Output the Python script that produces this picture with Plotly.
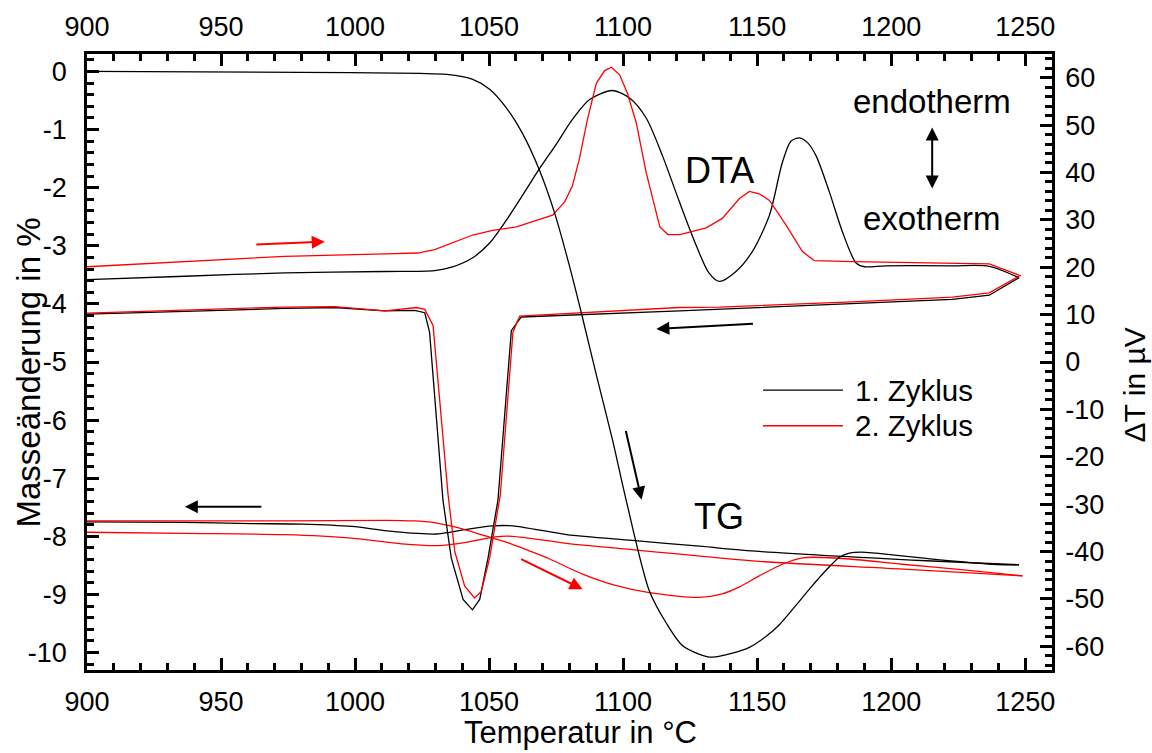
import plotly.graph_objects as go

# ---------------- data ----------------
# TG (mass change in %), 1. cycle heating
tg1_heat_T = [900, 979.4, 1024.1, 1034.2, 1043.9, 1050.2, 1056.5, 1062.5, 1068.8, 1074.4, 1080.0,
              1084.5, 1090.1, 1096.0, 1101.3, 1109.8, 1116.2, 1122.1, 1128.5, 1133.3, 1140.8,
              1147.1, 1153.4, 1158.3, 1164.6, 1170.2, 1175.8, 1180.7, 1184.4, 1188.8, 1194.4,
              1213.1, 1237.7, 1247.7]
tg1_heat_m = [0, -0.017, -0.034, -0.051, -0.136, -0.306, -0.63, -1.07, -1.70, -2.43, -3.35,
              -4.17, -5.24, -6.33, -7.41, -8.94, -9.50, -9.88, -10.03, -10.08, -10.01,
              -9.91, -9.72, -9.52, -9.18, -8.87, -8.58, -8.36, -8.29, -8.27, -8.29,
              -8.38, -8.48, -8.49]
# TG 1. cycle cooling
tg1_cool_T = [1247.7, 1213.1, 1150.8, 1128.5, 1103.5, 1078.9, 1058.8, 1051.3, 1041.6, 1035.3,
              1030.4, 1023.4, 1011.1, 998.8, 980.1, 961.5, 936.5, 900]
tg1_cool_m = [-8.49, -8.42, -8.26, -8.17, -8.07, -7.97, -7.82, -7.82, -7.88, -7.93,
              -7.96, -7.95, -7.90, -7.83, -7.79, -7.78, -7.76, -7.75]
# TG 2. cycle heating
tg2_heat_T = [900, 937, 974, 1011, 1022, 1029, 1039, 1048, 1057.7, 1065, 1072.6, 1084.9, 1096.8,
              1109.8, 1128.5, 1137, 1143.4, 1150.8, 1159.4, 1166.9, 1171.3, 1184.4, 1204, 1228, 1249]
tg2_heat_m = [-7.735, -7.735, -7.735, -7.725, -7.735, -7.76, -7.86, -7.985, -8.12, -8.25, -8.39,
              -8.65, -8.84, -8.97, -9.05, -8.99, -8.87, -8.68, -8.48, -8.37, -8.36, -8.39,
              -8.48, -8.58, -8.68]
# TG 2. cycle cooling
tg2_cool_T = [1249, 1203, 1150.8, 1106.1, 1078.9, 1058.8, 1052.1, 1042.0, 1030.8, 1017.4,
              998.8, 973.8, 936.5, 900]
tg2_cool_m = [-8.68, -8.56, -8.43, -8.24, -8.12, -8.00, -8.01, -8.10, -8.16, -8.13,
              -8.03, -7.97, -7.95, -7.93]

# DTA (µV), 1. cycle heating
dta1_heat_T = [900, 936.5, 973.8, 1011.1, 1029.7, 1036.0, 1043.9, 1050.2, 1056.4, 1062.5, 1068.8,
               1075.1, 1081.1, 1087.5, 1096.0, 1102.4, 1108.6, 1114.7, 1121.0, 1127.2, 1132.0,
               1135.9, 1142.1, 1148.2, 1154.6, 1159.4, 1162.6, 1165.8, 1168.8, 1172.0,
               1177.0, 1181.8, 1186.9, 1190.0, 1198.1, 1222.8, 1236.6, 1247.7]
dta1_heat_v = [17.4, 18.1, 18.8, 19.1, 19.3, 20.0, 22.0, 25.1, 29.9, 35.2, 40.8,
               46.0, 51.2, 55.4, 57.3, 55.7, 51.5, 43.5, 33.8, 24.7, 18.8,
               17.0, 19.1, 23.3, 31.0, 42.1, 46.6, 47.3, 46.3, 43.5,
               35.8, 27.5, 20.9, 20.1, 20.3, 20.3, 20.2, 17.8]
# DTA 1. cycle cooling
dta1_cool_T = [1247.7, 1236.6, 1222.8, 1185.5, 1135.9, 1121.0, 1062.0, 1058.3, 1053.3, 1049.6,
               1046.5, 1043.8, 1040.3, 1035.9, 1032.8, 1027.8, 1026.0, 1022.2, 1011.1, 992.4,
               973.8, 936.5, 900]
dta1_cool_v = [17.8, 14.1, 13.2, 12.3, 11.1, 10.8, 9.5, 6.6, -29.2, -41.4,
               -50.1, -52.3, -50.1, -41.4, -29.2, 6.3, 10.4, 10.9, 10.8, 11.5,
               11.3, 10.7, 10.1]
# DTA 2. cycle heating
dta2_heat_T = [900, 936.5, 973.8, 1011.1, 1023.4, 1029.7, 1036.0, 1043.9, 1051.3, 1060.2, 1066.2,
               1073.7, 1078.2, 1081.1, 1083.7, 1086.7, 1090.0, 1093.1, 1095.6, 1098.7, 1101.6,
               1104.9, 1108.6, 1113.7, 1116.7, 1121.2, 1131.0, 1137.0, 1143.4, 1147.1, 1150.8,
               1154.6, 1160.8, 1166.9, 1171.3, 1185.5, 1236.6, 1248.3]
dta2_heat_v = [20.1, 21.2, 22.3, 22.8, 23.0, 23.7, 25.1, 26.8, 27.8, 28.5, 29.6,
               31.0, 33.8, 37.2, 42.9, 51.2, 58.8, 61.5, 62.2, 60.6, 56.7,
               50.5, 40.0, 28.5, 26.9, 26.9, 28.3, 30.3, 34.5, 36.0, 35.5,
               34.1, 28.9, 23.3, 21.4, 21.2, 20.7, 18.2]
# DTA 2. cycle cooling
dta2_cool_T = [1248.3, 1236.6, 1222.8, 1185.5, 1135.9, 1121.0, 1061.4, 1058.9, 1054.2, 1050.2,
               1047.1, 1044.6, 1040.9, 1037.2, 1034.7, 1029.1, 1026.0, 1022.9, 1011.1, 992.4,
               973.8, 936.5, 900]
dta2_cool_v = [18.3, 14.6, 13.7, 12.7, 11.6, 11.5, 9.7, 6.3, -28.0, -41.4,
               -48.4, -49.8, -47.3, -40.0, -28.0, 7.7, 11.1, 11.5, 10.8, 11.7,
               11.6, 10.9, 10.3]

# ticks
x_tick_vals = [900, 950, 1000, 1050, 1100, 1150, 1200, 1250]
x_tick_text = ["900", "950", "1000", "1050", "1100", "1150", "1200", "1250"]
y_tick_vals = [0, -1, -2, -3, -4, -5, -6, -7, -8, -9, -10]
y_tick_text = ["0", "-1", "-2", "-3", "-4", "-5", "-6", "-7", "-8", "-9", "-10"]
y2_tick_vals = [60, 50, 40, 30, 20, 10, 0, -10, -20, -30, -40, -50, -60]
y2_tick_text = ["60", "50", "40", "30", "20", "10", "0", "-10", "-20", "-30", "-40", "-50", "-60"]

legend_names = ["1. Zyklus", "2. Zyklus"]
cycle_colors = ["#000000", "#ff0000"]

FONT = "Liberation Sans, Arial, sans-serif"
LW = 1.3

fig = go.Figure()

def add(T, v, color, yaxis, shape, xaxis="x"):
    fig.add_trace(go.Scatter(x=T, y=v, mode="lines", xaxis=xaxis, yaxis=yaxis,
                             line=dict(color=color, width=LW, shape=shape, smoothing=0.8),
                             showlegend=False, hoverinfo="skip"))

# TG curves (left axis)
add(tg1_heat_T, tg1_heat_m, cycle_colors[0], "y", "spline", xaxis="x2")
add(tg1_cool_T, tg1_cool_m, cycle_colors[0], "y", "spline")
add(tg2_heat_T, tg2_heat_m, cycle_colors[1], "y", "spline")
add(tg2_cool_T, tg2_cool_m, cycle_colors[1], "y", "spline")
# DTA curves (right axis)
add(dta1_heat_T, dta1_heat_v, cycle_colors[0], "y2", "spline")
add(dta1_cool_T, dta1_cool_v, cycle_colors[0], "y2", "linear")
add(dta2_heat_T, dta2_heat_v, cycle_colors[1], "y2", "linear")
add(dta2_cool_T, dta2_cool_v, cycle_colors[1], "y2", "linear")

axis_common = dict(showline=True, linecolor="black", linewidth=2.5, ticks="inside",
                   ticklen=12, tickwidth=2.5, tickcolor="black", showgrid=False,
                   zeroline=False, tickfont=dict(family=FONT, size=27, color="black"),
                   tickmode="array")

minor_x = dict(tickmode="linear", tick0=900, dtick=10, ticks="inside", ticklen=7,
               tickwidth=2.5, tickcolor="black")

fig.update_layout(
    width=1152, height=753,
    margin=dict(l=87, r=100, t=47, b=83),
    paper_bgcolor="white", plot_bgcolor="white",
    font=dict(family=FONT, color="black"),
    xaxis=dict(**axis_common, range=[900, 1260], tickvals=x_tick_vals, ticktext=x_tick_text,
               minor=minor_x, side="bottom", anchor="y", ticklabelstandoff=6),
    xaxis2=dict(**axis_common, range=[900, 1260], tickvals=x_tick_vals, ticktext=x_tick_text,
                minor=minor_x, side="top", overlaying="x", anchor="y", matches="x",
                ticklabelstandoff=4),
    yaxis=dict(**axis_common, range=[-10.3, 0.3], tickvals=y_tick_vals, ticktext=y_tick_text,
               minor=dict(tickmode="linear", tick0=0, dtick=0.2, ticks="inside", ticklen=7,
                          tickwidth=2.5, tickcolor="black"),
               side="left", anchor="x", ticklabelstandoff=12),
    yaxis2=dict(**axis_common, range=[-65, 65], tickvals=y2_tick_vals, ticktext=y2_tick_text,
                minor=dict(tickmode="linear", tick0=0, dtick=2, ticks="inside", ticklen=7,
                           tickwidth=2.5, tickcolor="black"),
                side="right", overlaying="y", anchor="x", ticklabelstandoff=5),
)

# axis titles: (text, x, y, angle, size, yanchor)
axis_titles = [
    ("Temperatur in °C", 0.511, -0.1316, 0, 31, "bottom"),
    ("Masseänderung in %", -0.0611, 0.483, -90, 33, "middle"),
    ("ΔT in µV", 1.085, 0.462, -90, 30, "middle"),
]
for t, x, y, ang, s, ya in axis_titles:
    fig.add_annotation(text=t, x=x, y=y, xref="paper", yref="paper", showarrow=False,
                       textangle=ang, xanchor="center", yanchor=ya, borderpad=0,
                       font=dict(family=FONT, size=s, color="black"))

# text labels
txt = [
    ("DTA", 1135.9, -1.70, 36),
    ("TG", 1135.9, -7.65, 36),
    ("endotherm", 1215.4, -0.51, 33),
    ("exotherm", 1215.2, -2.53, 33),
]
for t, x, y, s in txt:
    fig.add_annotation(text=t, x=x, y=y, xref="x", yref="y", showarrow=False,
                       xanchor="center", yanchor="middle", font=dict(family=FONT, size=s, color="black"))

# arrows: (head_x, head_y, tail_x, tail_y, color)
arrows = [
    (988.7, -2.93, 962.6, -2.98, "#ff0000"),
    (1112.4, -4.43, 1149.0, -4.34, "#000000"),
    (1106.9, -7.37, 1100.9, -6.16, "#000000"),
    (936.5, -7.49, 965.6, -7.49, "#000000"),
    (1084.9, -8.91, 1061.4, -8.38, "#ff0000"),
]
for hx, hy, tx, ty, c in arrows:
    fig.add_annotation(x=hx, y=hy, ax=tx, ay=ty, xref="x", yref="y", axref="x", ayref="y",
                       text="", showarrow=True, arrowhead=2, arrowsize=1.3, arrowwidth=2,
                       arrowcolor=c)
# double arrow endotherm/exotherm
fig.add_annotation(x=1215.3, y=-0.965, ax=1215.3, ay=-2.04, xref="x", yref="y", axref="x", ayref="y",
                   text="", showarrow=True, arrowhead=2, startarrowhead=2, arrowside="end+start",
                   arrowsize=1.3, startarrowsize=1.3, arrowwidth=2, arrowcolor="black")

# manual legend
leg_y = [0.4543, 0.3965]
for name, col, yy in zip(legend_names, cycle_colors, leg_y):
    fig.add_shape(type="line", xref="paper", yref="paper", x0=0.7005, x1=0.7834, y0=yy, y1=yy,
                  line=dict(color=col, width=LW))
    fig.add_annotation(text=name, xref="paper", yref="paper", x=0.7938, y=yy, showarrow=False,
                       xanchor="left", yanchor="middle", font=dict(family=FONT, size=29.5, color="black"))

fig.write_html("out.html")
